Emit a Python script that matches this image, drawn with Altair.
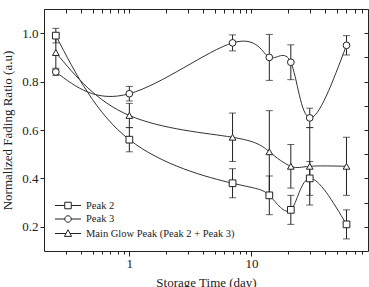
import altair as alt
import pandas as pd

days = [0.25, 1, 7, 14, 21, 30, 60]
series_names = ["Peak 2", "Peak 3", "Main Glow Peak (Peak 2 + Peak 3)"]
peak2 = [0.99, 0.56, 0.38, 0.33, 0.27, 0.40, 0.21]
peak2_err = [0.03, 0.05, 0.06, 0.08, 0.06, 0.07, 0.06]
peak3 = [0.84, 0.75, 0.96, 0.90, 0.88, 0.65, 0.95]
peak3_err = [0.015, 0.03, 0.033, 0.095, 0.072, 0.04, 0.04]
main = [0.92, 0.66, 0.57, 0.51, 0.45, 0.45, 0.45]
main_err = [0.07, 0.05, 0.10, 0.17, 0.09, 0.16, 0.12]

y_labels = [0.2, 0.4, 0.6, 0.8, 1.0]
y_minor = [round(0.2 + 0.1 * i, 1) for i in range(9)]
x_major = [1, 10]
x_minor = [0.3, 0.4, 0.5, 0.6, 0.7, 0.8, 0.9, 2, 3, 4, 5, 6, 7, 8, 9, 20, 30, 40, 50, 60, 70, 80]
x_all = [0.2] + x_minor[:7] + [1] + x_minor[7:15] + [10] + x_minor[15:] + [90]

rows = []
for name, vals, errs in zip(series_names, [peak2, peak3, main], [peak2_err, peak3_err, main_err]):
    for d, v, e in zip(days, vals, errs):
        rows.append({"series": name, "day": d, "value": v, "lo": v - e, "hi": v + e})
df = pd.DataFrame(rows)

INK = "#222222"
FONT = "Liberation Serif"
xscale = alt.Scale(type="log", domain=[0.2, 90])
yscale = alt.Scale(domain=[0.1, 1.1])

# legend glyphs: line stub + marker + line stub (unit = 5 px)
sq = "M-2.6,0L-0.65,0M0.65,0L2.6,0M-0.65,-0.65L0.65,-0.65L0.65,0.65L-0.65,0.65Z"
ci = "M-2.6,0L-0.65,0M0.65,0L2.6,0M0.65,0A0.65,0.65,0,1,1,-0.65,0A0.65,0.65,0,1,1,0.65,0Z"
tri = "M-2.6,0L-0.42,0M0.42,0L2.6,0M0,-0.75L0.72,0.58L-0.72,0.58Z"

base = alt.Chart(df)

lines = base.mark_line(interpolate="natural", color="#333333", strokeWidth=1).encode(
    x=alt.X("day:Q", scale=xscale,
            axis=alt.Axis(orient="bottom", values=x_major, format="d", tickSize=5,
                          labelPadding=1, title="Storage Time (day)", titleY=35,
                          titleBaseline="alphabetic", domain=False)),
    y=alt.Y("value:Q", scale=yscale,
            axis=alt.Axis(orient="left", values=y_labels, format=".1f", tickSize=4,
                          labelPadding=2, title="Normalized Fading Ratio (a.u)",
                          titleX=-37, titleY=121, titleBaseline="middle", domain=False)),
    detail="series:N",
)

rules = base.mark_rule(color=INK, strokeWidth=1).encode(
    x=alt.X("day:Q", scale=xscale,
            axis=alt.Axis(orient="bottom", values=x_minor, tickSize=3, labels=False,
                          title=None, domain=False)),
    y=alt.Y("lo:Q", scale=yscale,
            axis=alt.Axis(orient="right", values=y_minor, tickSize=4, offset=-4,
                          labels=False, title=None, domain=False)),
    y2="hi:Q",
)

caps = base.transform_fold(["lo", "hi"], as_=["end", "yv"]).mark_tick(
    orient="horizontal", color=INK, size=7, thickness=1
).encode(
    x=alt.X("day:Q", scale=xscale,
            axis=alt.Axis(orient="top", values=x_all, tickSize=4, offset=-4,
                          labels=False, title=None, domain=False)),
    y=alt.Y("yv:Q", scale=yscale, axis=None),
)

points = base.mark_point(filled=True, fill="white", stroke=INK, strokeWidth=1,
                         size=45, opacity=1).encode(
    x=alt.X("day:Q", scale=xscale, axis=None),
    y=alt.Y("value:Q", scale=yscale, axis=None),
    shape=alt.Shape("series:N",
                    scale=alt.Scale(domain=series_names,
                                    range=["square", "circle", "triangle-up"]),
                    legend=None),
)

legend_layer = base.transform_filter("false").mark_point(
    filled=False, color=INK, strokeWidth=1, opacity=1
).encode(
    x=alt.X("day:Q", scale=xscale, axis=None),
    y=alt.Y("value:Q", scale=yscale, axis=None),
    shape=alt.Shape("series:N",
                    scale=alt.Scale(domain=series_names, range=[sq, ci, tri]),
                    legend=alt.Legend(
                        title=None, orient="none", legendX=11, legendY=191,
                        symbolSize=100, symbolStrokeWidth=1,
                        symbolStrokeColor=INK, symbolOffset=7.5, symbolOpacity=1,
                        labelFont=FONT, labelFontSize=10.5, labelColor=INK,
                        labelOffset=12.5, rowPadding=2.5, padding=0,
                    )),
)

chart = alt.layer(lines, rules, caps, points, legend_layer).resolve_axis(
    x="independent", y="independent"
).resolve_scale(shape="independent").properties(
    width=324, height=242, autosize="none",
    padding={"left": 44, "top": 9, "right": 1, "bottom": 36},
).configure_view(stroke=INK, strokeWidth=1).configure_axis(
    grid=False, labelFont=FONT, labelFontSize=13, labelColor=INK,
    titleFont=FONT, titleFontSize=13, titleFontWeight="normal", titleColor=INK,
    tickColor=INK, tickWidth=1,
)

chart.save("out.html", embed_options={"renderer": "svg", "actions": False})
